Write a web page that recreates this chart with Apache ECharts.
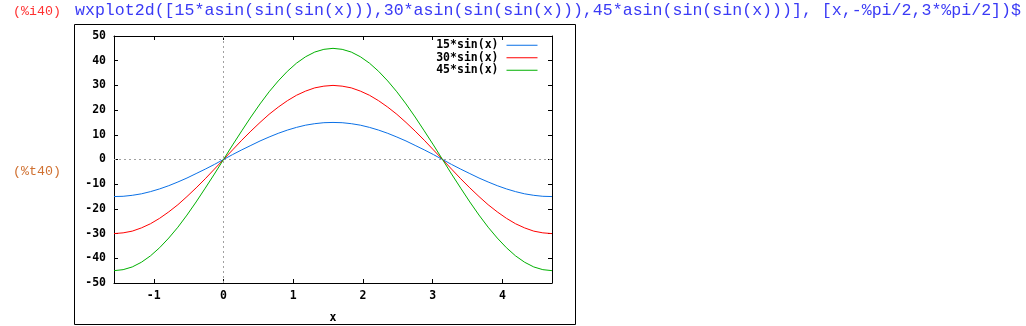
<!DOCTYPE html>
<html>
<head>
<meta charset="utf-8">
<script src="https://cdn.jsdelivr.net/npm/echarts@6/dist/echarts.min.js"></script>
<style>
  html, body { margin: 0; padding: 0; background: #ffffff; }
  #chart { width: 1026px; height: 326px; }
</style>
</head>
<body>
<div id="chart"></div>
<script>
// Session text around the plot
const inputTag = '(%i40)';
const inputCommand = 'wxplot2d([15*asin(sin(sin(x))),30*asin(sin(sin(x))),45*asin(sin(sin(x)))], [x,-%pi/2,3*%pi/2])$';
const outputTag = '(%t40)';

// Sample positions along x (from -pi/2 to 3*pi/2)
const xs = [
  -1.571, -1.440, -1.309, -1.178, -1.047, -0.916, -0.785, -0.654, -0.524, -0.393, -0.262, -0.131,
  0, 0.131, 0.262, 0.393, 0.524, 0.654, 0.785, 0.916, 1.047, 1.178, 1.309, 1.440,
  1.571, 1.702, 1.833, 1.963, 2.094, 2.225, 2.356, 2.487, 2.618, 2.749, 2.880, 3.011,
  3.142, 3.272, 3.403, 3.534, 3.665, 3.796, 3.927, 4.058, 4.189, 4.320, 4.451, 4.581, 4.712
];

const seriesNames = ['15*sin(x)', '30*sin(x)', '45*sin(x)'];

const blueValues = [
  -15, -14.9, -14.5, -13.9, -13.0, -11.9, -10.6, -9.1, -7.5, -5.7, -3.9, -2.0,
  0, 2.0, 3.9, 5.7, 7.5, 9.1, 10.6, 11.9, 13.0, 13.9, 14.5, 14.9,
  15, 14.9, 14.5, 13.9, 13.0, 11.9, 10.6, 9.1, 7.5, 5.7, 3.9, 2.0,
  0, -2.0, -3.9, -5.7, -7.5, -9.1, -10.6, -11.9, -13.0, -13.9, -14.5, -14.9, -15
];
const redValues = [
  -30, -29.7, -29.0, -27.7, -26.0, -23.8, -21.2, -18.3, -15.0, -11.5, -7.8, -3.9,
  0, 3.9, 7.8, 11.5, 15.0, 18.3, 21.2, 23.8, 26.0, 27.7, 29.0, 29.7,
  30, 29.7, 29.0, 27.7, 26.0, 23.8, 21.2, 18.3, 15.0, 11.5, 7.8, 3.9,
  0, -3.9, -7.8, -11.5, -15.0, -18.3, -21.2, -23.8, -26.0, -27.7, -29.0, -29.7, -30
];
const greenValues = [
  -45, -44.6, -43.5, -41.6, -39.0, -35.7, -31.8, -27.4, -22.5, -17.2, -11.6, -5.9,
  0, 5.9, 11.6, 17.2, 22.5, 27.4, 31.8, 35.7, 39.0, 41.6, 43.5, 44.6,
  45, 44.6, 43.5, 41.6, 39.0, 35.7, 31.8, 27.4, 22.5, 17.2, 11.6, 5.9,
  0, -5.9, -11.6, -17.2, -22.5, -27.4, -31.8, -35.7, -39.0, -41.6, -43.5, -44.6, -45
];

const xTicks = [-1, 0, 1, 2, 3, 4];
const xMin = -Math.PI / 2;
const xMax = 3 * Math.PI / 2;
const yMin = -50, yMax = 50, yStep = 10;

const colors = ['#0a70e6', '#ff0000', '#00b000'];
const plotFont = 'DejaVu Sans Mono';

function pairs(values) {
  return xs.map((x, i) => [x, values[i]]);
}

const chart = echarts.init(document.getElementById('chart'), null, { renderer: 'canvas' });

const labelStyle = { color: '#000', fontFamily: plotFont, fontWeight: 'bold', fontSize: 11.5 };
const tickStyle = { show: true, inside: true, length: 4, lineStyle: { color: '#000', width: 1 } };
const lineStyle = { show: true, lineStyle: { color: '#000', width: 1 } };

const option = {
  animation: false,
  backgroundColor: '#ffffff',
  grid: { left: 114, top: 36, right: 474, bottom: 43, containLabel: false, outerBoundsMode: 'none' },
  legend: {
    show: true,
    orient: 'vertical',
    right: 488,
    top: 39,
    padding: 0,
    align: 'right',
    itemWidth: 31,
    itemHeight: 8,
    itemGap: 0,
    itemStyle: { opacity: 0 },
    lineStyle: { width: 1 },
    textStyle: {
      color: '#000', fontFamily: plotFont, fontWeight: 'bold', fontSize: 11.5,
      lineHeight: 12.5, padding: [0, 3, 0, 0]
    },
    data: seriesNames
  },
  xAxis: [
    {
      type: 'value', min: xMin, max: xMax, position: 'bottom',
      name: 'x', nameLocation: 'middle', nameGap: 29,
      nameTextStyle: labelStyle,
      axisLine: Object.assign({ onZero: false }, lineStyle),
      axisTick: Object.assign({ customValues: xTicks }, tickStyle),
      axisLabel: Object.assign({ customValues: xTicks, margin: 7 }, labelStyle),
      splitLine: { show: false }
    },
    {
      type: 'value', min: xMin, max: xMax, position: 'top',
      axisLine: Object.assign({ onZero: false }, lineStyle),
      axisTick: Object.assign({ customValues: xTicks }, tickStyle),
      axisLabel: { show: false },
      splitLine: { show: false }
    }
  ],
  yAxis: [
    {
      type: 'value', min: yMin, max: yMax, interval: yStep, position: 'left',
      axisLine: Object.assign({ onZero: false }, lineStyle),
      axisTick: tickStyle,
      axisLabel: Object.assign({ margin: 8 }, labelStyle),
      splitLine: { show: false }
    },
    {
      type: 'value', min: yMin, max: yMax, interval: yStep, position: 'right',
      axisLine: Object.assign({ onZero: false }, lineStyle),
      axisTick: tickStyle,
      axisLabel: { show: false },
      splitLine: { show: false }
    }
  ],
  series: [blueValues, redValues, greenValues].map((vals, i) => {
    const s = {
      name: seriesNames[i],
      type: 'line',
      xAxisIndex: 0,
      yAxisIndex: 0,
      data: pairs(vals),
      showSymbol: false,
      symbol: 'none',
      color: colors[i],
      lineStyle: { color: colors[i], width: 1 },
      z: 3 + i
    };
    if (i === 0) {
      // dotted zero axes through the origin
      s.markLine = {
        silent: true,
        symbol: ['none', 'none'],
        label: { show: false },
        lineStyle: { color: '#a0a0a0', type: [2, 3], width: 1 },
        z: 1,
        data: [{ xAxis: 0 }, { yAxis: 0 }]
      };
    }
    return s;
  }),
  graphic: [
    // frame around the plot image
    {
      type: 'rect', left: 72, top: 22, z: 0,
      shape: { x: 0.5, y: 0.5, width: 501, height: 300 },
      style: { fill: 'none', stroke: '#000', lineWidth: 1 }
    },
    {
      type: 'text', left: 13, top: 5,
      style: { text: inputTag, fill: '#ff3030', font: '13.3px "Liberation Mono"' }
    },
    {
      type: 'text', left: 75, top: 2,
      style: { text: inputCommand, fill: '#3a3af5', font: '16.6px "Liberation Mono"' }
    },
    {
      type: 'text', left: 13, top: 165,
      style: { text: outputTag, fill: '#d07030', font: '13.3px "Liberation Mono"' }
    }
  ]
};

chart.setOption(option);
</script>
</body>
</html>
